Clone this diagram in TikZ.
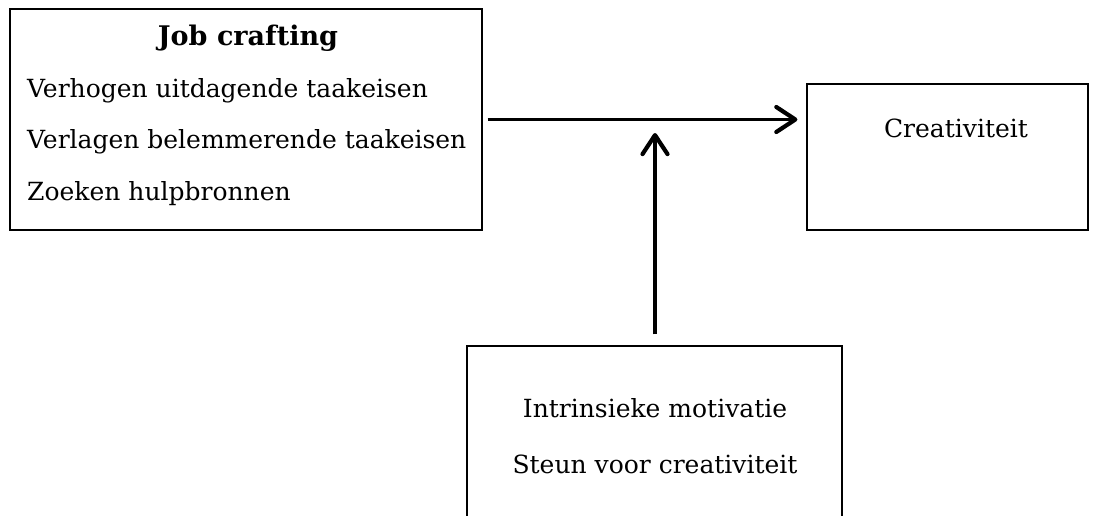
\documentclass[tikz,border=0pt]{standalone}
\usepackage{fontspec}
\setmainfont{DejaVu Serif}
\usetikzlibrary{arrows.meta}
\tikzset{
  box/.style={draw, line width=1.2pt, inner sep=0pt},
  txt/.style={inner sep=0pt, font=\fontsize{25}{29}\selectfont},
  link/.style={line width=3.2pt, -{Straight Barb[length=19pt,width=25pt,line width=4.2pt,round]}}
}
\begin{document}
\begin{tikzpicture}[x=1pt,y=-1pt]
  \useasboundingbox (0,0) rectangle (1096,515);
  \node[box, minimum width=472pt, minimum height=221pt] (crafting) at (246,119.5) {};
  \node[box, minimum width=281pt, minimum height=146pt] (creativity) at (947.5,157) {};
  \node[box, minimum width=375pt, minimum height=179pt] (moderator) at (654.5,435.5) {};
  \node[txt, anchor=base, font=\fontsize{27}{31}\selectfont\bfseries] (title) at (248,45) {Job crafting};
  \node[txt, anchor=base west] (raise) at (27,97) {Verhogen uitdagende taakeisen};
  \node[txt, anchor=base west] (lower) at (27,148) {Verlagen belemmerende taakeisen};
  \node[txt, anchor=base west] (seek) at (27,200) {Zoeken hulpbronnen};
  \node[txt, anchor=base] (outcome) at (956,137) {Creativiteit};
  \node[txt, anchor=base] (intrinsic) at (655,417) {Intrinsieke motivatie};
  \node[txt, anchor=base] (support) at (655,473) {Steun voor creativiteit};
  \coordinate (hinge) at (655,133);
  \draw[link] ([xshift=5pt]crafting.east) -- ([xshift=-9pt]creativity.west |- crafting.east);
  \draw[link] ([yshift=11pt]moderator.north -| hinge) -- (hinge);
\end{tikzpicture}
\end{document}
